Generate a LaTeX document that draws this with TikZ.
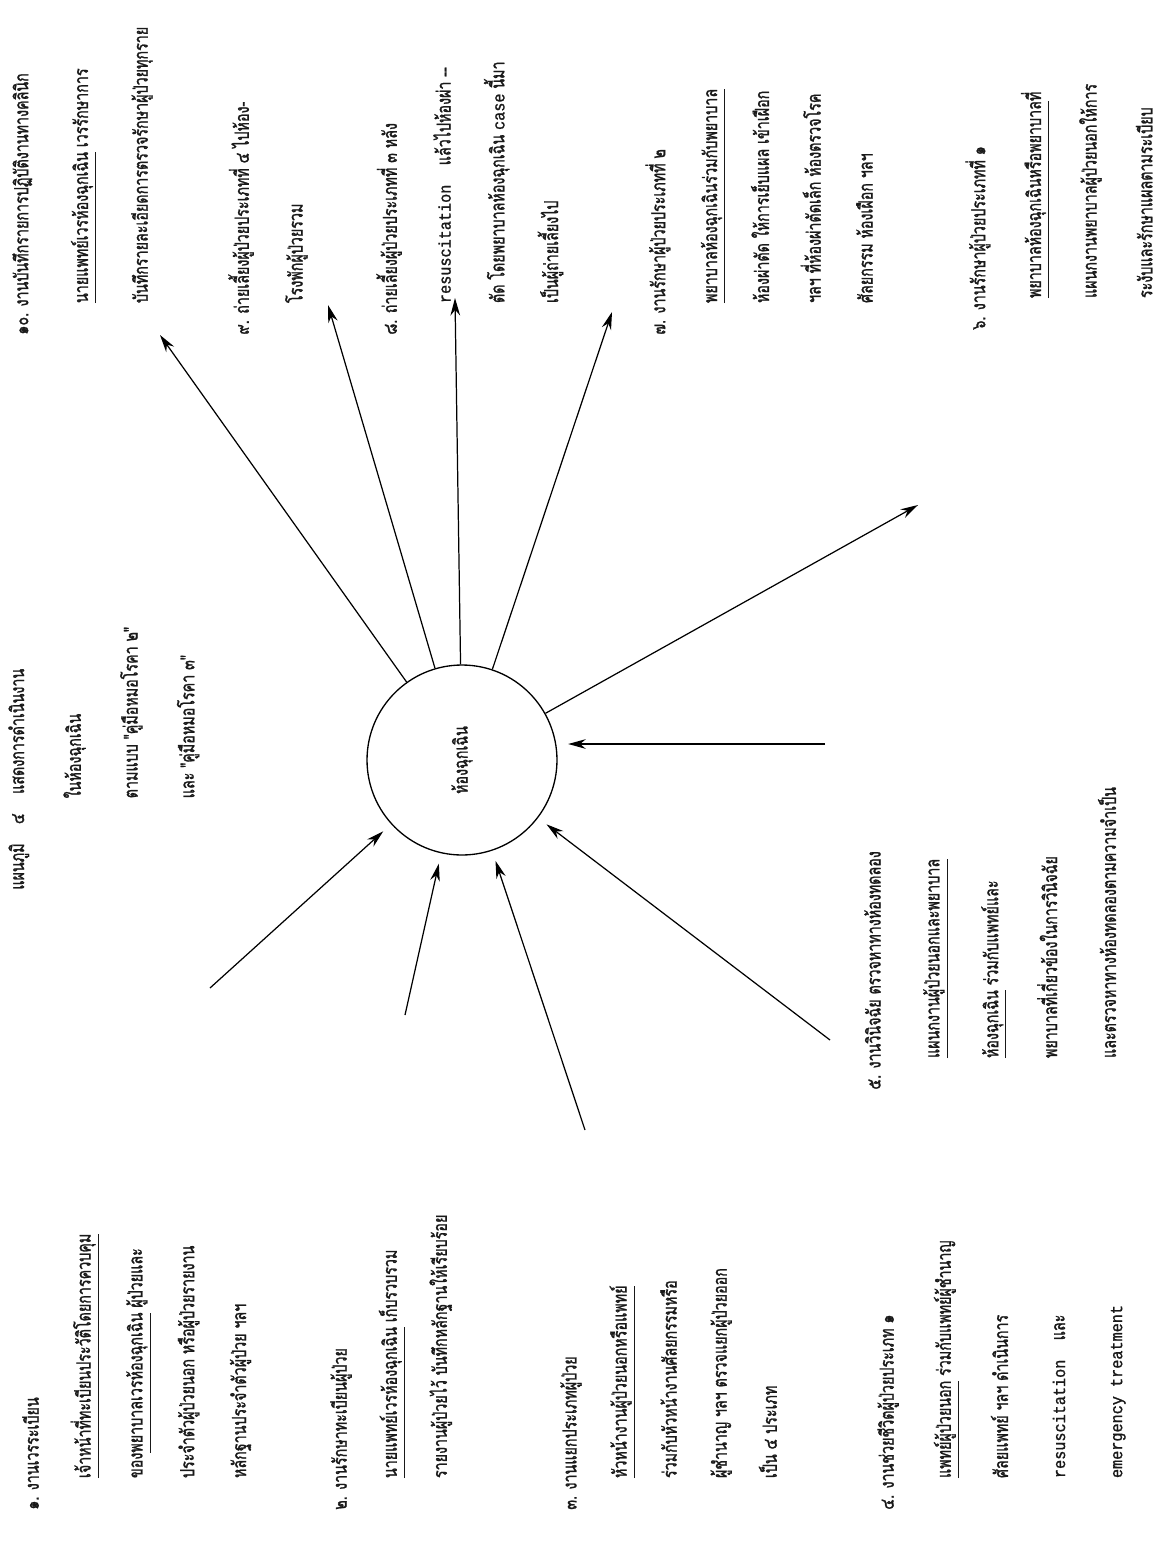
\documentclass[tikz,border=0pt]{standalone}
\usepackage{fontspec}
\newfontfamily\thaifont[Script=Thai, FakeStretch=0.74, FakeBold=1.2]{Loma}
\newfontfamily\typefont[FakeStretch=0.9, FakeBold=1.2]{Liberation Mono}
\usetikzlibrary{arrows.meta,positioning}
\newcommand\indln{\hspace*{18pt}}
\newcommand\eng[1]{{\typefont\fontsize{9.6}{9.6}\selectfont #1}}

\begin{document}
\begin{tikzpicture}[
  x = 0.02cm, y = -0.02cm,
  > = {Stealth[length=10pt,width=5.5pt]},
  gap/.style  = {font=\thaifont\fontsize{11}{#1}\selectfont},
  txt/.style  = {rotate=90, anchor=north west, align=left, inner sep=0pt,
                 text=black!90, gap=29.5},
  hub/.style  = {circle, draw, line width=0.75pt, minimum size=3.8cm, inner sep=0pt},
  feed/.style = {->, line width=0.7pt, shorten >=6pt},
  emit/.style = {->, line width=0.7pt}
]
\fill[white] (0,0) rectangle (1168,1541);
\useasboundingbox (0,0) rectangle (1168,1541);

% emergency room
\node[hub] (hub) at (462,760) {};
\node[txt, anchor=center] (hubtxt) at (hub) {ห้องฉุกเฉิน};

% caption
\node[txt, gap=32.3] (chart) at (8,890) {แผนภูมิ\quad ๔\quad แสดงการดำเนินงาน\\
  \hspace*{52pt}ในห้องฉุกเฉิน\\
  \hspace*{52pt}ตามแบบ "คู่มือหมอโรคา ๒"\\
  \hspace*{52pt}และ "คู่มือหมอโรคา ๓"};

% inputs
\node[txt] (reg) at (22,1510) {๑. งานเวรระเบียน\\
  \indln\underline{เจ้าหน้าที่ทะเบียนประวัติโดยการควบคุม}\\
  \indln ของ\underline{พยาบาลเวรห้องฉุกเฉิน} ผู้ป่วยและ\\
  \indln ประจำตัวผู้ป่วยนอก หรือผู้ป่วยรายงาน\\
  \indln หลักฐานประจำตัวผู้ป่วย ฯลฯ};
\node[txt, gap=28.5] (keep) at (330,1510) {๒. งานรักษาทะเบียนผู้ป่วย\\
  \indln\underline{นายแพทย์เวรห้องฉุกเฉิน} เก็บรวบรวม\\
  \indln รายงานผู้ป่วยไว้ บันทึกหลักฐานให้เรียบร้อย};
\node[txt, gap=28.5] (sort) at (560,1510) {๓. งานแยกประเภทผู้ป่วย\\
  \indln\underline{หัวหน้างานผู้ป่วยนอกหรือแพทย์}\\
  \indln ร่วมกับหัวหน้างานศัลยกรรมหรือ\\
  \indln ผู้ชำนาญ ฯลฯ ตรวจแยกผู้ป่วยออก\\
  \indln เป็น ๔ ประเภท};
\node[txt, gap=32.5] (resc) at (877,1510) {๔. งานช่วยชีวิตผู้ป่วยประเภท ๑\\
  \indln\underline{แพทย์ผู้ป่วยนอก} ร่วมกับแพทย์ผู้ชำนาญ\\
  \indln ศัลยแพทย์ ฯลฯ ดำเนินการ\\
  \indln\eng{resuscitation}\quad และ\\
  \indln\eng{emergency treatment}};
\node[txt, gap=33.5] (diag) at (864,1090) {๕. งานวินิจฉัย ตรวจหาทางห้องทดลอง\\
  \indln\underline{แผนกงานผู้ป่วยนอกและพยาบาล}\\
  \indln\underline{ห้องฉุกเฉิน} ร่วมกับแพทย์และ\\
  \indln พยาบาลที่เกี่ยวข้องในการวินิจฉัย\\
  \indln และตรวจหาทางห้องทดลองตามความจำเป็น};

% outputs
\node[txt, gap=31.7] (cat1) at (965,330) {๖. งานรักษาผู้ป่วยประเภทที่ ๑\\
  \indln\underline{พยาบาลห้องฉุกเฉินหรือพยาบาล}ที่\\
  \indln แผนกงานพยาบาลผู้ป่วยนอกให้การ\\
  \indln ระงับและรักษาแผลตามระเบียบ};
\node[txt] (cat2) at (645,335) {๗. งานรักษาผู้ป่วยประเภทที่ ๒\\
  \indln\underline{พยาบาลห้องฉุกเฉินร่วมกับพยาบาล}\\
  \indln ห้องผ่าตัด ให้การเย็บแผล เข้าเฝือก\\
  \indln ฯลฯ ที่ห้องผ่าตัดเล็ก ห้องตรวจโรค\\
  \indln ศัลยกรรม ห้องเฝือก ฯลฯ};
\node[txt, gap=30.6] (cat3) at (376,335) {๘. ถ่ายเลี้ยงผู้ป่วยประเภทที่ ๓ หลัง\\
  \indln\eng{resuscitation}\quad แล้วไปห้องผ่า --\\
  \indln ตัด โดยพยาบาลห้องฉุกเฉิน \eng{case} นี้มา\\
  \indln เป็นผู้ถ่ายเลี้ยงไป};
\node[txt, gap=30.6] (cat4) at (228,335) {๙. ถ่ายเลี้ยงผู้ป่วยประเภทที่ ๔ ไปห้อง-\\
  \indln โรงพักผู้ป่วยรวม};
\node[txt, gap=34] (rec) at (12,335) {๑๐. งานบันทึกรายการปฏิบัติงานทางคลินิก\\
  \indln\underline{นายแพทย์เวรห้องฉุกเฉิน} เวรรักษาการ\\
  \indln บันทึกรายละเอียดการตรวจรักษาผู้ป่วยทุกราย};

% arrows into the room
\coordinate (i1) at (210,988);
\coordinate (i2) at (405,1015);
\coordinate (i3) at (585,1130);
\coordinate (i4) at (830,1040);
\coordinate (i5) at (825,744);
\draw[feed] (i1) -- (hub);
\draw[feed] (i2) -- (hub);
\draw[feed] (i3) -- (hub);
\draw[feed] (i4) -- (hub);
\draw[feed] (i5) -- (i5 -| hub.east);

% arrows out of the room
\coordinate (o1) at (160,335);
\coordinate (o2) at (328,305);
\coordinate (o3) at (455,298);
\coordinate (o4) at (612,312);
\coordinate (o5) at (918,505);
\draw[emit] (hub) -- (o1);
\draw[emit] (hub) -- (o2);
\draw[emit] (hub) -- (o3);
\draw[emit] (hub) -- (o4);
\draw[emit] (hub) -- (o5);
\end{tikzpicture}
\end{document}
